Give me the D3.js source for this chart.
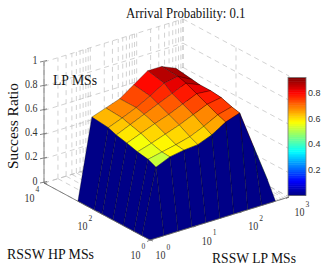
<!DOCTYPE html>
<html><head><meta charset="utf-8">
<script src="https://cdn.jsdelivr.net/npm/d3@7/dist/d3.min.js"></script>
<style>html,body{margin:0;padding:0;background:#fff;overflow:hidden}svg{display:block}</style>
</head><body><svg id="c" width="327" height="273"></svg>
<script>
const lpValues=[1,2,4,8,16,32,64,128,256,512];
const hpValues=[1,2,4,10,25,63,126,525];
const zRow0=[0,0,0,0,0,0,0,0,0,0];
const zRow1=[0,.53,.58,.60,.61,.655,.725,.765,.45,.14];
const zRow2=[0,.56,.585,.61,.64,.69,.75,.78,.45,.14];
const zRow3=[0,.575,.61,.65,.69,.74,.79,.81,.46,.14];
const zRow4=[0,.60,.645,.69,.73,.78,.83,.82,.47,.14];
const zRow5=[0,.62,.67,.72,.77,.82,.87,.82,.47,.14];
const zRow6=[0,.645,.69,.74,.80,.87,.89,.83,.48,.14];
const zRow7=[0,.66,.70,.74,.82,.90,.90,.85,.48,.14];
const zRows=[zRow0,zRow1,zRow2,zRow3,zRow4,zRow5,zRow6,zRow7];
const zTicks=[0,.2,.4,.6,.8,1];
const cbTicks=[.2,.4,.6,.8];
const lpDecades=[1,10,100,1000];
const lpMinors=[1,2,3,4,5,6,7,8,9,10,20,30,40,50,60,70,80,90,100,200,300,400,500,600,700,800,900,1000];
const hpDecades=[1,100,10000];
const cbMax=.92;
const title="Arrival Probability: 0.1", zLabel="Success Ratio", note="LP MSs", hpLabel="RSSW HP MSs", lpLabel="RSSW LP MSs";

const svg=d3.select("#c");
const ox=150,oy=240;
const lpX=d3.scaleLog().domain([1,1000]).range([0,139]);
const lpY=d3.scaleLog().domain([1,1000]).range([0,-43]);
const hpX=d3.scaleLog().domain([1,10000]).range([0,-106]);
const hpY=d3.scaleLog().domain([1,10000]).range([0,-57]);
const zS=d3.scaleLinear().domain([0,1]).range([0,-121]);
const P=(lp,hp,z)=>[ox+lpX(lp)+hpX(hp), oy+lpY(lp)+hpY(hp)+zS(z)];
const line=d3.line();

function jet(t){
  const c=x=>Math.max(0,Math.min(1,x));
  const r=c(Math.min(4*t-1.5,-4*t+4.5)),g=c(Math.min(4*t-.5,-4*t+3.5)),b=c(Math.min(4*t+.5,-4*t+2.5));
  return d3.rgb(r*255,g*255,b*255)+"";
}
const q=t=>jet((Math.min(63,Math.floor(t*64))+.5)/64);

// grid
const grid=svg.append("g").attr("fill","none").attr("stroke","#b4b4b4").attr("stroke-width",.6).attr("stroke-dasharray","5 4");
const seg=(a,b)=>grid.append("path").attr("d",line([a,b]));
zTicks.forEach(z=>{ seg(P(1,1e4,z),P(1000,1e4,z)); seg(P(1000,1e4,z),P(1000,1,z)); });
lpMinors.forEach(l=>{ seg(P(l,1e4,0),P(l,1e4,1)); seg(P(l,1e4,0),P(l,1,0)); });
hpDecades.forEach(h=>{ seg(P(1000,h,0),P(1000,h,1)); seg(P(1,h,0),P(1000,h,0)); });

// surface, far to near
const cells=[];
for(let j=zRows.length-2;j>=0;j--) for(let i=lpValues.length-2;i>=0;i--) cells.push([i,j]);
svg.append("g").selectAll("path").data(cells).join("path")
 .attr("d",([i,j])=>line([[i,j],[i+1,j],[i+1,j+1],[i,j+1]].map(([a,b])=>P(lpValues[a],hpValues[b],zRows[b][a])))+"Z")
 .attr("fill",([i,j])=>q(Math.min(.999,zRows[j][i]/cbMax)))
 .attr("stroke","#000").attr("stroke-opacity",.5).attr("stroke-width",.6).attr("stroke-linejoin","round");

// axes
const ax=svg.append("g").attr("fill","none").attr("stroke","#666").attr("stroke-width",.8);
ax.append("path").attr("d",line([P(1,1e4,0),P(1,1e4,1)]));
ax.append("path").attr("d",line([P(1,1e4,0),P(1,1,0)]));
ax.append("path").attr("d",line([P(1,1,0),P(1000,1,0)]));
zTicks.forEach(z=>{const p=P(1,1e4,z);ax.append("path").attr("d",line([[p[0]-4,p[1]],[p[0]+3,p[1]-1.5]]));});
lpDecades.forEach(l=>{const p=P(l,1,0);ax.append("path").attr("d",line([p,[p[0]-3,p[1]+1.5]]));});
hpDecades.forEach(h=>{const p=P(1,h,0);ax.append("path").attr("d",line([p,[p[0]+3,p[1]+1]]));});

const serif="'Liberation Serif',serif", sans="'Liberation Sans',sans-serif";
const txt=(x,y,s,size,fam,len,col)=>{
  const t=svg.append("text").attr("x",x).attr("y",y).text(s).attr("font-size",size).attr("font-family",fam).attr("fill",col||"#111");
  if(len) t.attr("textLength",len).attr("lengthAdjust","spacingAndGlyphs");
  return t;
};

zTicks.forEach(z=>{const p=P(1,1e4,z);const s=z===0?"0":z===1?"1":d3.format(".1f")(z);
  const w=s.length===1?5:12.5; txt(37.5-w,p[1]+1.5,s,11.5,serif,w,"#333");});
const power=(x,y,e)=>{txt(x,y,"10",11.5,serif,10,"#333");txt(x+11,y-9.5,e,7.5,serif,null,"#333");};
lpDecades.forEach((l,k)=>{const p=P(l,1,0);power(p[0]+5.5,p[1]+19,String(k));});
hpDecades.forEach((h,k)=>{const p=P(1,h,0);power(p[0]-19.5,p[1]+18.5,String(k*2));});

txt(126,17.5,title,15,serif,119.5);
txt(53,85,note,15,serif,44);
txt(7,259,hpLabel,15,serif,87);
txt(212,263,lpLabel,15,serif,84);
svg.append("text").attr("transform","translate(18,169) rotate(-90)").attr("font-size",15).attr("font-family",serif).attr("fill","#111")
  .attr("textLength",86).attr("lengthAdjust","spacingAndGlyphs").text(zLabel);

// colour bar
const cbX=288,cbW=18;
const cbS=d3.scaleLinear().domain([0,cbMax]).range([195.5,77.5]);
const cbLevels=d3.range(64);
svg.append("g").selectAll("rect").data(cbLevels).join("rect")
 .attr("x",cbX).attr("width",cbW)
 .attr("y",d=>cbS((d+1)/64*cbMax)).attr("height",d=>cbS(d/64*cbMax)-cbS((d+1)/64*cbMax)+.5)
 .attr("fill",d=>jet((d+.5)/64));
svg.append("rect").attr("x",cbX).attr("y",77.5).attr("width",cbW).attr("height",118).attr("fill","none").attr("stroke","#777").attr("stroke-width",.8);
cbTicks.forEach(t=>txt(308,cbS(t)+3.2,d3.format(".1f")(t),9,sans,null,"#333"));
</script></body></html>
